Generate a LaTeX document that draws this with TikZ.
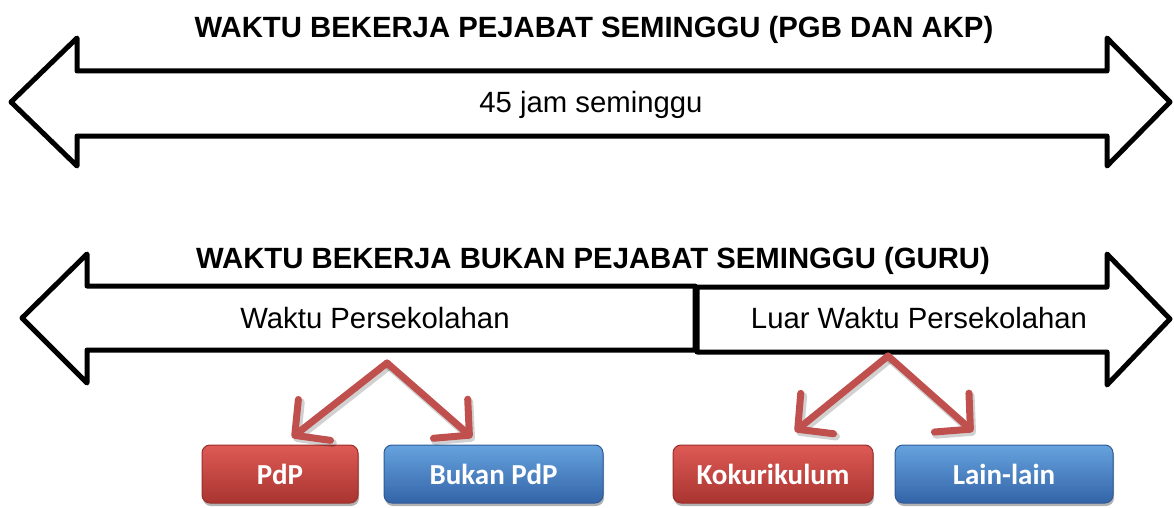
\documentclass[tikz,border=0pt]{standalone}
\usepackage{fontspec}
\setmainfont{Liberation Sans}
\newfontfamily\boxfont{Carlito}
\usetikzlibrary{arrows.meta,shadows}
\definecolor{connred}{HTML}{C0504D}
\definecolor{redtop}{HTML}{DE5A55}
\definecolor{redmid}{HTML}{C9403B}
\definecolor{redbot}{HTML}{A93430}
\definecolor{redline}{HTML}{9A2E2B}
\definecolor{bluetop}{HTML}{66A3DE}
\definecolor{bluemid}{HTML}{4682C8}
\definecolor{bluebot}{HTML}{3364A8}
\definecolor{blueline}{HTML}{2E5A96}
\begin{document}
\begin{tikzpicture}[x=1pt,y=-1pt,
  bigarrow/.style={draw=black,line width=5pt,line join=round,fill=white},
  lbl/.style={font=\fontsize{29.3}{34}\selectfont, anchor=base, inner sep=0pt},
  ttl/.style={font=\bfseries\fontsize{29.3}{34}\selectfont, anchor=base, inner sep=0pt},
  tagbox/.style={rounded corners=8pt, minimum height=58pt, text=white,
    font=\boxfont\bfseries\fontsize{29}{32}\selectfont,
    text height=21pt, text depth=0pt, line width=1pt, inner sep=0pt,
    drop shadow={shadow xshift=1pt,shadow yshift=-3pt,opacity=0.3,fill=black}},
  redbox/.style={tagbox, draw=redline, top color=redtop, middle color=redmid, bottom color=redbot},
  bluebox/.style={tagbox, draw=blueline, top color=bluetop, middle color=bluemid, bottom color=bluebot},
  conn/.style={draw=connred, line width=7pt, line cap=round,
    -{Straight Barb[length=25pt,width=52pt,round]}},
  connshadow/.style={draw=black, opacity=0.18, line width=8pt, line cap=round,
    -{Straight Barb[length=25pt,width=52pt,round]}},
]
\useasboundingbox (0,0) rectangle (1174,508);

% top double arrow
\draw[bigarrow] (11,102) -- (77,38) -- (77,71) -- (1107,71) -- (1107,38)
  -- (1170,102) -- (1107,166) -- (1107,136) -- (77,136) -- (77,166) -- cycle;
\node[ttl] (t1) at (594,38) {WAKTU BEKERJA PEJABAT SEMINGGU (PGB DAN AKP)};
\node[lbl] (t1b) at (591,113) {45 jam seminggu};

% bottom arrows
\draw[bigarrow] (697,287) -- (1107,287) -- (1107,254) -- (1170,319)
  -- (1107,385) -- (1107,352) -- (697,352) -- cycle;
\draw[bigarrow] (22,318) -- (87,254) -- (87,286) -- (695,286) -- (695,350)
  -- (87,350) -- (87,383) -- cycle;
\node[ttl] (t2) at (593,268) {WAKTU BEKERJA BUKAN PEJABAT SEMINGGU (GURU)};
\node[lbl] (wp) at (375,328) {Waktu Persekolahan};
\node[lbl] (lwp) at (919,328) {Luar Waktu Persekolahan};

% boxes
\node[redbox, minimum width=156pt] (pdp) at (280,474) {PdP};
\node[bluebox, minimum width=219pt] (bpdp) at (493.5,474) {Bukan PdP};
\node[redbox, minimum width=200pt] (koko) at (773,474) {Kokurikulum};
\node[bluebox, minimum width=218pt] (lain) at (1004,474) {Lain-lain};

\coordinate (apexL) at (387,363);
\coordinate (apexR) at (888,356);

% connector shadows
\draw[connshadow, transform canvas={xshift=2pt,yshift=-3pt}] (apexL) -- ([shift={(12,-7)}]pdp.north);
\draw[connshadow, transform canvas={xshift=2pt,yshift=-3pt}] (apexL) -- ([shift={(-21.5,-7)}]bpdp.north);
\draw[connshadow, transform canvas={xshift=2pt,yshift=-3pt}] (apexR) -- ([shift={(22,-13)}]koko.north);
\draw[connshadow, transform canvas={xshift=2pt,yshift=-3pt}] (apexR) -- ([shift={(-31,-13)}]lain.north);
% connectors
\draw[conn] (apexL) -- ([shift={(12,-7)}]pdp.north);
\draw[conn] (apexL) -- ([shift={(-21.5,-7)}]bpdp.north);
\draw[conn] (apexR) -- ([shift={(22,-13)}]koko.north);
\draw[conn] (apexR) -- ([shift={(-31,-13)}]lain.north);
\end{tikzpicture}
\end{document}
